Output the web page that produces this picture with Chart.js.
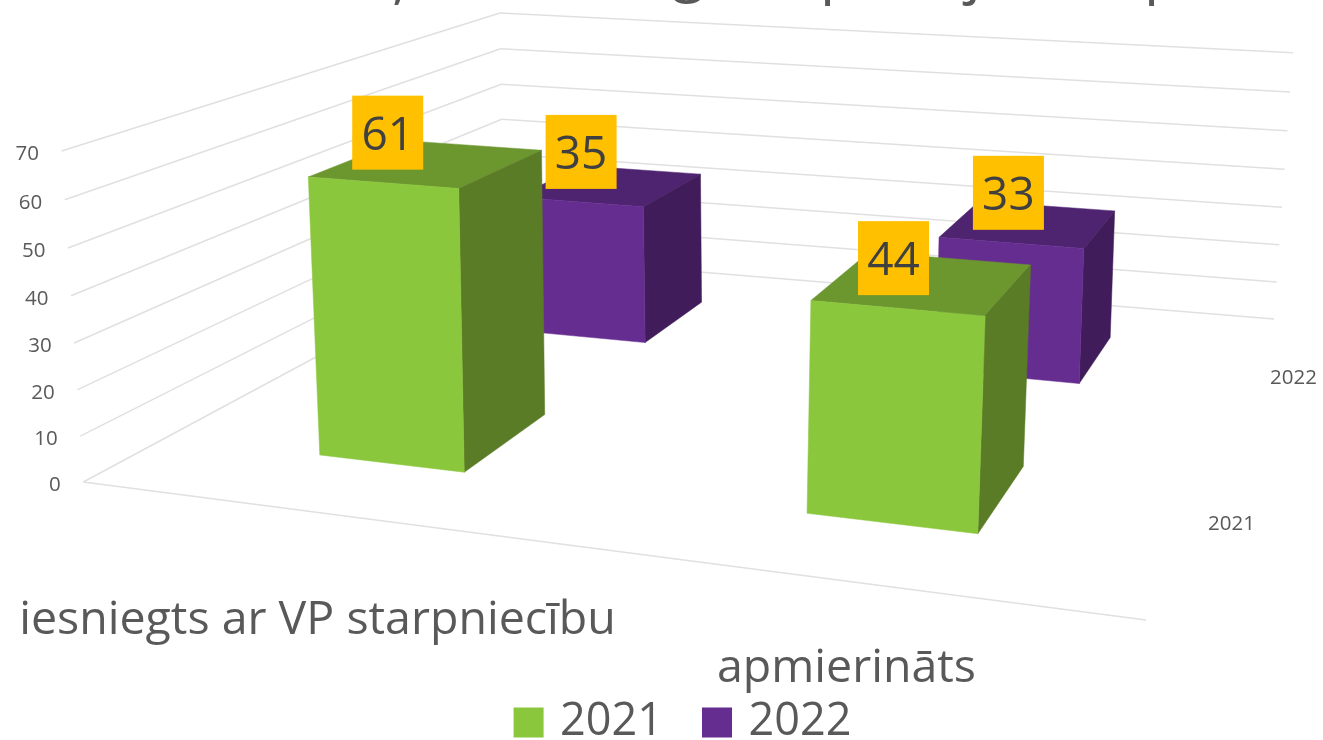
<!DOCTYPE html>
<html><head><meta charset="utf-8">
<style>html,body{margin:0;padding:0;background:#fff;overflow:hidden;width:1323px;height:740px}canvas{display:block}</style>
<script src="https://cdn.jsdelivr.net/npm/chart.js@4"></script></head>
<body><canvas id="c" width="1323" height="755"></canvas>
<script>
const categories = ["iesniegts ar VP starpniecību", "apmierināts"];
const seriesNames = ["2021", "2022"];
const values2021 = [61, 44];
const values2022 = [35, 33];
const yTicksMax = 70;
const yTicksStep = 10;

// camera: the frame's floor and top planes on screen (order: front-left, front-right, back-right, back-left)
const floorQuad = [[83.3,482],[1146,620],[1274,319],[504,256]];
const topQuad   = [[61.5,151],[1169,235],[1293,52.7],[500,13]];
const perspective = 0.965;
const barDepth = 0.2;
const barFootShift = 3;
const catLabelPos = [[317.5,621],[846.5,669]];
const depthLabelOffset = [43,4];
const titleFragments = [[",",392,-3],["g",672,-10],["p",820,-8],["j",966,-8],["p",1144,-8]];
const colors = {
  "2021": {front:"#8AC73D", side:"#5A7C26", top:"#6C972F"},
  "2022": {front:"#662D91", side:"#401C5B", top:"#4E2370"}
};
const FONT = '"Open Sans"';
const TEXT = "#595959";

function homography(q){
  const [[x0,y0],[x1,y1],[x2,y2],[x3,y3]] = q;
  const dx1=x1-x2, dy1=y1-y2, dx2=x3-x2, dy2=y3-y2;
  const sx=x0-x1+x2-x3, sy=y0-y1+y2-y3;
  const den=dx1*dy2-dx2*dy1;
  const g=(sx*dy2-dx2*sy)/den, h=(dx1*sy-sx*dy1)/den;
  const a=x1-x0+g*x1, b=x3-x0+h*x3, d=y1-y0+g*y1, e=y3-y0+h*y3;
  return (u,w)=>{const W=g*u+h*w+1;return [(a*u+b*w+x0)/W,(d*u+e*w+y0)/W];};
}
const floorH = homography(floorQuad), topH = homography(topQuad);
function project(u,w,t){
  const p=floorH(u,w), q=topH(u,w);
  const s=t*perspective/(1+(perspective-1)*t);
  return [p[0]+(q[0]-p[0])*s, p[1]+(q[1]-p[1])*s];
}
function foot(u,w){const p=project(u,w,0);return [p[0]+barFootShift,p[1]];}
function poly(ctx,pts,fill){
  ctx.beginPath();pts.forEach((p,i)=>i?ctx.lineTo(p[0],p[1]):ctx.moveTo(p[0],p[1]));ctx.closePath();
  ctx.fillStyle=fill;ctx.fill();
  ctx.strokeStyle=fill;ctx.lineWidth=0.5;ctx.stroke();
}
function seg(ctx,a,b){ctx.beginPath();ctx.moveTo(a[0],a[1]);ctx.lineTo(b[0],b[1]);ctx.stroke();}

const scene3d = {
  id:"scene3d",
  beforeDatasetsDraw(chart){
    const ctx=chart.ctx, xS=chart.scales.x, yS=chart.scales.y;
    const y0=yS.getPixelForValue(0), yM=yS.getPixelForValue(yTicksMax);
    const norm=py=>(y0-py)/(y0-yM);
    ctx.save();
    // clipped title: only the descenders fall inside the picture
    ctx.fillStyle=TEXT;ctx.font='60px '+FONT;ctx.textAlign="left";ctx.textBaseline="alphabetic";
    titleFragments.forEach(([s,x,y])=>ctx.fillText(s,x,y));
    // walls
    ctx.strokeStyle="#E0E0E0";ctx.lineWidth=1.5;
    yS.ticks.forEach(tk=>{
      const t=norm(yS.getPixelForValue(tk.value));
      seg(ctx,project(0,0,t),project(0,1,t));
      seg(ctx,project(0,1,t),project(1,1,t));
    });
    seg(ctx,project(0,0,0),project(1,0,0));
    // value labels
    ctx.fillStyle=TEXT;ctx.font='20.5px '+FONT;ctx.textAlign="right";ctx.textBaseline="middle";
    yS.ticks.forEach(tk=>{
      const t=norm(yS.getPixelForValue(tk.value));
      const p=project(0,0,t);
      ctx.fillText(String(tk.value),p[0]-22.5,p[1]+3);
    });
    // depth labels
    ctx.textAlign="center";
    seriesNames.forEach((n,j)=>{
      const p=project(1,(j+0.5)/seriesNames.length,0);
      ctx.fillText(n,p[0]+depthLabelOffset[0],p[1]+depthLabelOffset[1]);
    });
    // category labels
    ctx.font='46.5px '+FONT;
    categories.forEach((c,i)=>ctx.fillText(c,catLabelPos[i][0],catLabelPos[i][1]));
    // bars, back series first
    const labels=[];
    for(let j=chart.data.datasets.length-1;j>=0;j--){
      const ds=chart.data.datasets[j], col=colors[ds.label];
      const wc=(j+0.5)/chart.data.datasets.length;
      const w0=wc-barDepth/2, w1=wc+barDepth/2;
      chart.getDatasetMeta(j).data.forEach((el,i)=>{
        const span=xS.right-xS.left;
        const u0=(el.x-el.width/2-xS.left)/span, u1=(el.x+el.width/2-xS.left)/span;
        const t=norm(el.y);
        poly(ctx,[project(u0,w0,t),project(u1,w0,t),project(u1,w1,t),project(u0,w1,t)],col.top);
        poly(ctx,[foot(u1,w0),foot(u1,w1),project(u1,w1,t),project(u1,w0,t)],col.side);
        poly(ctx,[foot(u0,w0),foot(u1,w0),project(u1,w0,t),project(u0,w0,t)],col.front);
        const um=(u0+u1)/2, m=project(um,w0,t), b=foot(um,w0);
        labels.push([m[0]+(b[0]-m[0])*0.6,m[1]-50,ds.data[i]]);
      });
    }
    labels.forEach(([x,y,v])=>{
      ctx.fillStyle="#FFC000";ctx.fillRect(x-35.5,y-37,71,74);
      ctx.fillStyle="#404040";ctx.font='46px '+FONT;ctx.textAlign="center";ctx.textBaseline="middle";
      ctx.fillText(String(v),x,y+4);
    });
    ctx.restore();
    return false;
  }
};

new Chart(document.getElementById("c"),{
  type:"bar",
  data:{labels:categories,datasets:[
    {label:seriesNames[0],data:values2021,backgroundColor:colors["2021"].front,borderColor:colors["2021"].front,borderWidth:12,grouped:false,barPercentage:0.314,categoryPercentage:1},
    {label:seriesNames[1],data:values2022,backgroundColor:colors["2022"].front,borderColor:colors["2022"].front,borderWidth:12,grouped:false,barPercentage:0.314,categoryPercentage:1}
  ]},
  options:{
    responsive:false,animation:false,
    layout:{padding:{left:48,top:10}},
    plugins:{
      tooltip:{enabled:false},
      title:{display:false},
      legend:{position:"bottom",fullSize:false,labels:{boxWidth:18,boxHeight:18,padding:45,color:TEXT,font:{family:FONT,size:45}}}
    },
    scales:{
      x:{display:false},
      y:{display:false,min:0,max:yTicksMax,ticks:{stepSize:yTicksStep}}
    }
  },
  plugins:[scene3d]
});
</script></body></html>
